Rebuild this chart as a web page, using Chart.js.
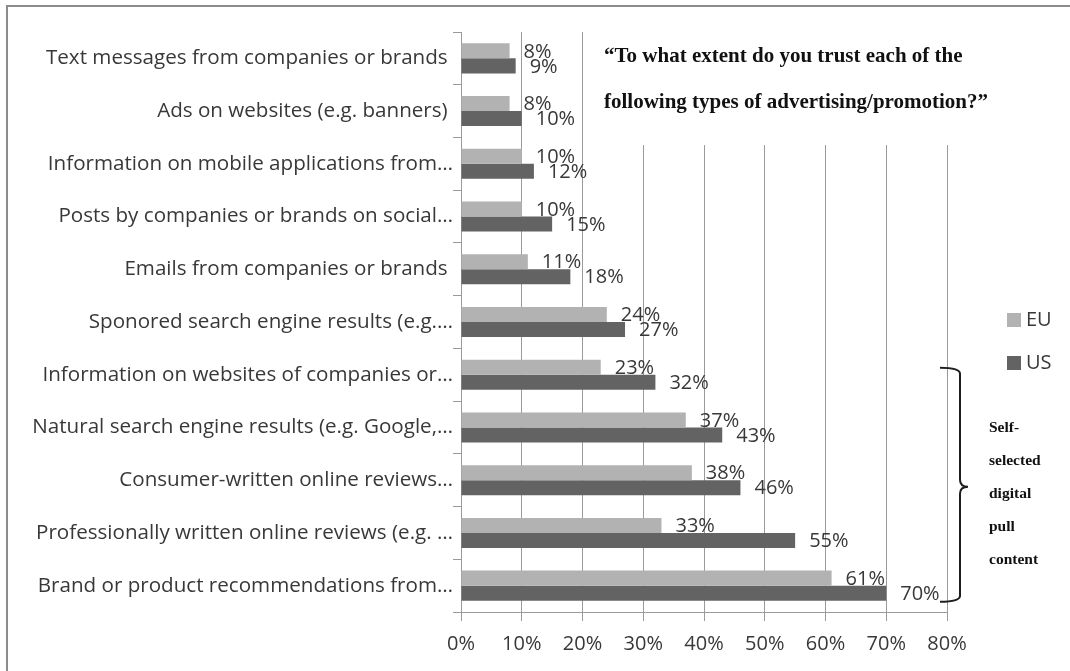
<!DOCTYPE html>
<html lang="en">
<head>
<meta charset="utf-8">
<title>Trust in advertising and promotion: EU vs US</title>
<script src="https://cdn.jsdelivr.net/npm/chart.js"></script>
<style>
  body { margin: 0; background: #ffffff; }
  .chart-box { position: relative; width: 1070px; height: 671px; }
</style>
</head>
<body>
<div class="chart-box"><canvas id="trustChart"></canvas></div>

<script>
  // Survey answers, top row first
  const categories = [
    'Text messages from companies or brands ',
    'Ads on websites (e.g. banners) ',
    'Information on mobile applications from…',
    'Posts by companies or brands on social…',
    'Emails from companies or brands ',
    'Sponored search engine results (e.g.…',
    'Information on websites of companies or…',
    'Natural search engine results (e.g. Google,…',
    'Consumer-written online reviews…',
    'Professionally written online reviews (e.g. …',
    'Brand or product recommendations from…'
  ];
  const euValues = [8, 8, 10, 10, 11, 24, 23, 37, 38, 33, 61];
  const usValues = [9, 10, 12, 15, 18, 27, 32, 43, 46, 55, 70];
  const seriesNames = ['EU', 'US'];
  const seriesColors = ['#b2b2b2', '#636363'];

  const questionLines = [
    '\u201cTo what extent do you trust each of the',
    'following types of advertising/promotion?\u201d'
  ];
  const braceNote = ['Self-', 'selected', 'digital', 'pull', 'content'];
  // first and last row covered by the brace
  const braceFrom = 6, braceTo = 10;

  const textColor = '#383838';
  const lineColor = '#9a9a9a';
  const labelFont = '20px "Open Sans"';

  // frame, question box, value labels, legend and brace
  const extras = {
    id: 'extras',
    beforeDraw(chart) {
      const ctx = chart.ctx;
      ctx.save();
      ctx.strokeStyle = '#8c8c8c';
      ctx.lineWidth = 2;
      ctx.beginPath();
      ctx.moveTo(7, 671);
      ctx.lineTo(7, 6);
      ctx.lineTo(1070, 6);
      ctx.stroke();
      ctx.restore();
    },
    beforeDatasetsDraw(chart) {
      // the question sits on a white box over the grid
      const ctx = chart.ctx;
      ctx.save();
      ctx.fillStyle = '#ffffff';
      ctx.fillRect(596, 22, 420, 123);
      ctx.fillStyle = '#111111';
      ctx.font = 'bold 21px "Liberation Serif"';
      ctx.textBaseline = 'middle';
      ctx.fillText(questionLines[0], 604, 57);
      ctx.fillText(questionLines[1], 604, 103);
      ctx.restore();
    },
    afterDatasetsDraw(chart) {
      const ctx = chart.ctx;
      ctx.save();
      ctx.font = labelFont;
      ctx.fillStyle = textColor;
      ctx.textBaseline = 'middle';
      ctx.textAlign = 'left';
      chart.data.datasets.forEach((ds, i) => {
        chart.getDatasetMeta(i).data.forEach((bar, j) => {
          ctx.fillText(ds.data[j] + '%', bar.x + 14, bar.y + 1);
        });
      });

      // legend
      chart.data.datasets.forEach((ds, i) => {
        const y = 320 + i * 43;
        ctx.fillStyle = ds.backgroundColor;
        ctx.fillRect(1007, y - 7, 14, 14);
        ctx.fillStyle = textColor;
        ctx.fillText(ds.label, 1026, y);
      });

      // brace next to the self-selected rows
      const yScale = chart.scales.y;
      const top = yScale.getPixelForValue(braceFrom) - 7;
      const bottom = yScale.getPixelForValue(braceTo) + 16;
      const mid = (top + bottom) / 2 + 2;
      const right = chart.chartArea.right;
      const x0 = right - 7, x1 = right + 13, tip = right + 21;
      ctx.strokeStyle = '#1e1e1e';
      ctx.lineWidth = 2;
      ctx.beginPath();
      ctx.moveTo(x0, top);
      ctx.quadraticCurveTo(x1, top, x1, top + 6);
      ctx.lineTo(x1, mid - 7);
      ctx.quadraticCurveTo(x1, mid, tip, mid);
      ctx.quadraticCurveTo(x1, mid, x1, mid + 7);
      ctx.lineTo(x1, bottom - 6);
      ctx.quadraticCurveTo(x1, bottom, x0, bottom);
      ctx.stroke();

      ctx.fillStyle = '#111111';
      ctx.font = 'bold 15.5px "Liberation Serif"';
      braceNote.forEach((word, k) => {
        ctx.fillText(word, 989, 428 + k * 33);
      });
      ctx.restore();
    }
  };

  new Chart(document.getElementById('trustChart'), {
    type: 'bar',
    data: {
      labels: categories,
      datasets: [
        { label: seriesNames[0], data: euValues, backgroundColor: seriesColors[0] },
        { label: seriesNames[1], data: usValues, backgroundColor: seriesColors[1] }
      ]
    },
    options: {
      indexAxis: 'y',
      responsive: true,
      maintainAspectRatio: false,
      animation: false,
      categoryPercentage: 0.57,
      barPercentage: 1.0,
      layout: { padding: { top: 32, right: 123, bottom: 0, left: 0 } },
      plugins: {
        legend: { display: false },
        tooltip: { enabled: false }
      },
      scales: {
        x: {
          min: 0,
          max: 80,
          ticks: {
            stepSize: 10,
            callback: v => v + '%',
            color: textColor,
            font: { family: 'Open Sans', size: 20 },
            padding: 11,
            maxRotation: 0
          },
          grid: { color: lineColor, tickLength: 9 },
          border: { color: lineColor },
          afterFit(scale) { scale.height = 59; }
        },
        y: {
          ticks: {
            color: textColor,
            font: { family: 'Open Sans', size: 20.6 },
            padding: 0,
            autoSkip: false
          },
          grid: { drawOnChartArea: false, color: lineColor, tickLength: 8 },
          border: { color: lineColor },
          afterFit(scale) { scale.width = 461; }
        }
      }
    },
    plugins: [extras]
  });
</script>
</body>
</html>
